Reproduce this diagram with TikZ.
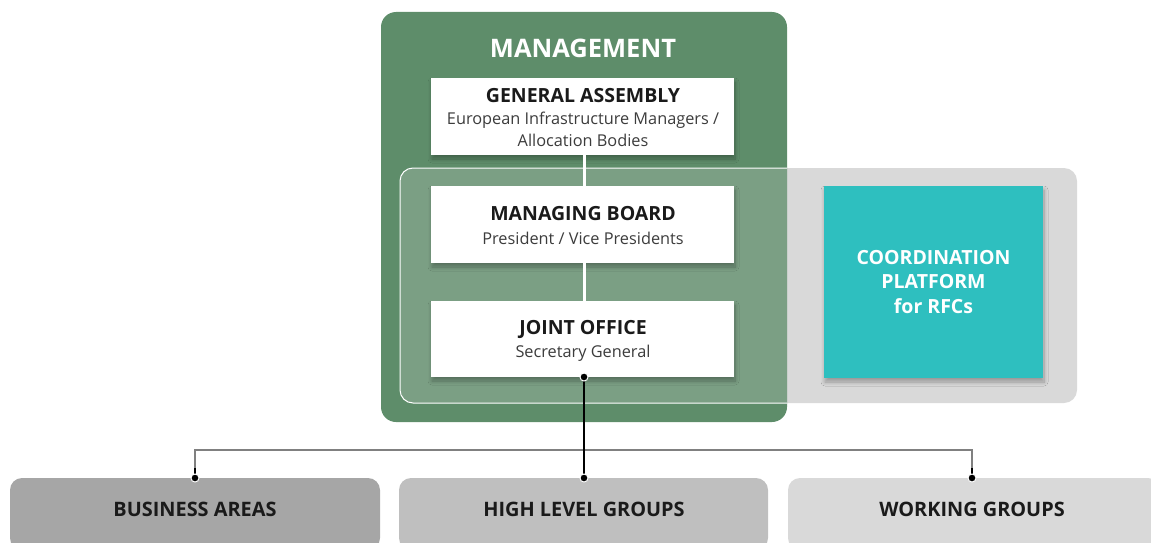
\documentclass[tikz,border=0pt]{standalone}
\usepackage{fontspec}
\setmainfont{Open Sans}
\usetikzlibrary{shadows,shadows.blur}
\definecolor{mgreen}{HTML}{5E8D6A}
\definecolor{lgray}{HTML}{D9D9D9}
\definecolor{mgray}{HTML}{BFBFBF}
\definecolor{dgray}{HTML}{A6A6A6}
\definecolor{teal}{HTML}{2EBFBF}
\definecolor{linegray}{HTML}{808080}
\definecolor{txt}{HTML}{1A1A1A}
\begin{document}
\begin{tikzpicture}[x=1pt,y=-1pt,
  softshadow/.style={blur shadow={shadow xshift=1pt, shadow yshift=-4pt, shadow blur radius=4pt, shadow blur steps=10, shadow opacity=30}},
  wbox/.style={fill=white, softshadow},
  ttl/.style={font=\fontsize{19.5}{22}\selectfont\bfseries, text=txt},
  sub/.style={font=\fontsize{16.3}{22}\selectfont, text=txt!85},
  botbox/.style={rounded corners=12pt},
  bottxt/.style={font=\fontsize{19.9}{22}\selectfont\bfseries, text=txt},
  dot/.style={circle, fill=black, draw=white, line width=1pt, inner sep=0pt, minimum size=8pt}
]
\useasboundingbox (0,0) rectangle (1151,543);
% coordination grey panel
\fill[lgray, rounded corners=13pt] (400,168) rectangle (1077,403);
% management green panel
\fill[mgreen, rounded corners=15pt] (381,12) rectangle (787,422);
% overlay of grey panel over green
\begin{scope}
\clip[rounded corners=15pt] (381,12) rectangle (787,422);
\fill[lgray, fill opacity=0.24, rounded corners=13pt] (400,168) rectangle (1077,403);
\draw[white, line width=1pt, rounded corners=13pt] (400,168) rectangle (1077,403);
\end{scope}
\node[font=\fontsize{25.5}{28}\selectfont\bfseries, text=white] (mgt) at (583,48) {MANAGEMENT};
% white boxes
\path[wbox] (431,78) rectangle (734,155);
\path[wbox] (431,186) rectangle (734,263);
\path[wbox] (431,301) rectangle (734,377);
\coordinate (gab) at (584,155);
\coordinate (mbt) at (584,186);
\coordinate (mbb) at (584,263);
\coordinate (jot) at (584,301);
\draw[white, line width=3pt] (gab) -- (mbt);
\draw[white, line width=3pt] (mbb) -- (jot);
\node[ttl] (ga) at (583,96) {GENERAL ASSEMBLY};
\node[sub, align=center] (gas) at (583,129) {European Infrastructure Managers /\\Allocation Bodies};
\node[ttl] (mb) at (583,214) {MANAGING BOARD};
\node[sub] (mbs) at (583,238) {President / Vice Presidents};
\node[ttl] (jo) at (583,329) {JOINT OFFICE};
\node[sub] (jos) at (583,353) {Secretary General};
% coordination platform
\path[fill=teal, softshadow] (824,186) rectangle (1043,378);
\node[font=\fontsize{19.5}{24.5}\selectfont\bfseries, text=white, align=center] (cp) at (933.5,282) {COORDINATION\\PLATFORM\\for RFCs};
% bottom boxes
\fill[dgray, botbox] (10,478) rectangle (380,550);
\fill[mgray, botbox] (399,478) rectangle (768,550);
\fill[lgray, botbox] (788,478) rectangle (1160,550);
\node[bottxt] (ba) at (195,509) {BUSINESS AREAS};
\node[bottxt] (hl) at (584,509) {HIGH LEVEL GROUPS};
\node[bottxt] (wg) at (972,509) {WORKING GROUPS};
% connectors
\coordinate (jod) at (584,377);
\coordinate (bad) at (195,478);
\coordinate (hld) at (584,478);
\coordinate (wgd) at (972,478);
\draw[linegray, line width=1.5pt] (bad) -- (195,450) -- (972,450) -- (wgd);
\draw[black, line width=1.5pt] (jod) -- (hld);
\draw[black, line width=1.5pt] (bad) -- +(0,-10);
\draw[black, line width=1.5pt] (wgd) -- +(0,-10);
\node[dot] at (jod) {};
\node[dot] at (bad) {};
\node[dot] at (hld) {};
\node[dot] at (wgd) {};
\end{tikzpicture}
\end{document}
